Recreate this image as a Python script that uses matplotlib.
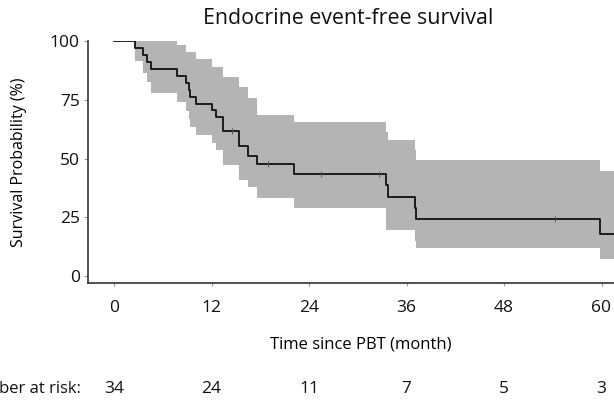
import numpy as np
import matplotlib.pyplot as plt

plt.rcParams['font.family'] = ['Open Sans', 'DejaVu Sans']
plt.rcParams['text.color'] = '#111111'

# Kaplan-Meier estimate
times = [0, 2.6, 3.6, 4.0, 4.5, 7.8, 8.9, 9.2, 9.4, 10.1, 12.0, 12.5, 13.4,
         15.4, 16.5, 17.6, 22.2, 33.5, 33.7, 37.0, 37.2, 59.8]
surv = [100, 97.1, 94.1, 91.2, 88.2, 85.3, 82.4, 79.4, 76.5, 73.5, 70.6, 67.6,
        62.0, 55.3, 51.3, 47.6, 43.4, 38.6, 33.8, 28.9, 24.1, 18.1]
upper = [np.nan, 100, 100, 100, 100, 98.3, 95.6, 95.6, 95.6, 92.3, 89.2, 89.2,
         84.9, 80.7, 75.7, 68.6, 65.5, 61.5, 57.9, 53.7, 49.4, 44.9]
lower = [np.nan, 91.6, 86.5, 82.8, 78.1, 74.2, 70.5, 66.9, 63.5, 60.1, 56.8, 53.6,
         47.4, 41.1, 38.0, 33.1, 28.8, 19.6, 19.6, 15.0, 11.8, 7.2]
t_last = 62

cens_t = [14.5, 18.9, 25.5, 32.6, 54.3]
cens_s = [62.0, 47.6, 43.4, 43.4, 24.1]

risk_t = [0, 12, 24, 36, 48, 60]
risk_n = [34, 24, 11, 7, 5, 3]

t = np.array(times + [t_last])
s = np.array(surv + [surv[-1]])
lo = np.array(lower + [lower[-1]])
up = np.array(upper + [upper[-1]])

fig = plt.figure(figsize=(6.14, 4.01), dpi=100)
ax = fig.add_axes([88 / 614, 118 / 401, 546 / 614, 242.3 / 401])

ax.fill_between(t[1:], lo[1:], up[1:], step='post', color='#b4b4b4', lw=0)
ax.step(t, s, where='post', color='#111111', lw=1.3)
ax.plot(cens_t, cens_s, ls='none', marker='|', ms=5, mew=0.7, color='#555555')

ax.set_xlim(-3.2, 64)
ax.set_ylim(-3, 100.3)
ax.set_xticks(risk_t)
ax.set_yticks([0, 25, 50, 75, 100])

for side in ['top', 'right']:
    ax.spines[side].set_visible(False)
for side in ['left', 'bottom']:
    ax.spines[side].set_color('#333333')
    ax.spines[side].set_linewidth(1.2)
ax.tick_params(axis='x', length=2, color='#999999', labelsize=12.5,
               labelcolor='#111111', pad=10)
ax.tick_params(axis='y', length=3, color='#999999', labelsize=12.5,
               labelcolor='#111111', pad=3)

ax.set_xlabel('Time since PBT (month)', fontsize=12, labelpad=15)
ax.set_ylabel('Survival Probability (%)', fontsize=11.5, labelpad=16)

fig.text(348 / 614, 1 - 19 / 401, 'Endocrine event-free survival',
         ha='center', va='center', fontsize=15.4)

tr = ax.get_xaxis_transform()
for x, n in zip(risk_t, risk_n):
    ax.text(x, -0.437, str(n), transform=tr, ha='center', va='center',
            fontsize=12.5, clip_on=False)
ax.text(-4.1, -0.437, 'Number at risk:', transform=tr, ha='right', va='center',
        fontsize=12, clip_on=False)

fig.savefig('out.png', dpi=100)
